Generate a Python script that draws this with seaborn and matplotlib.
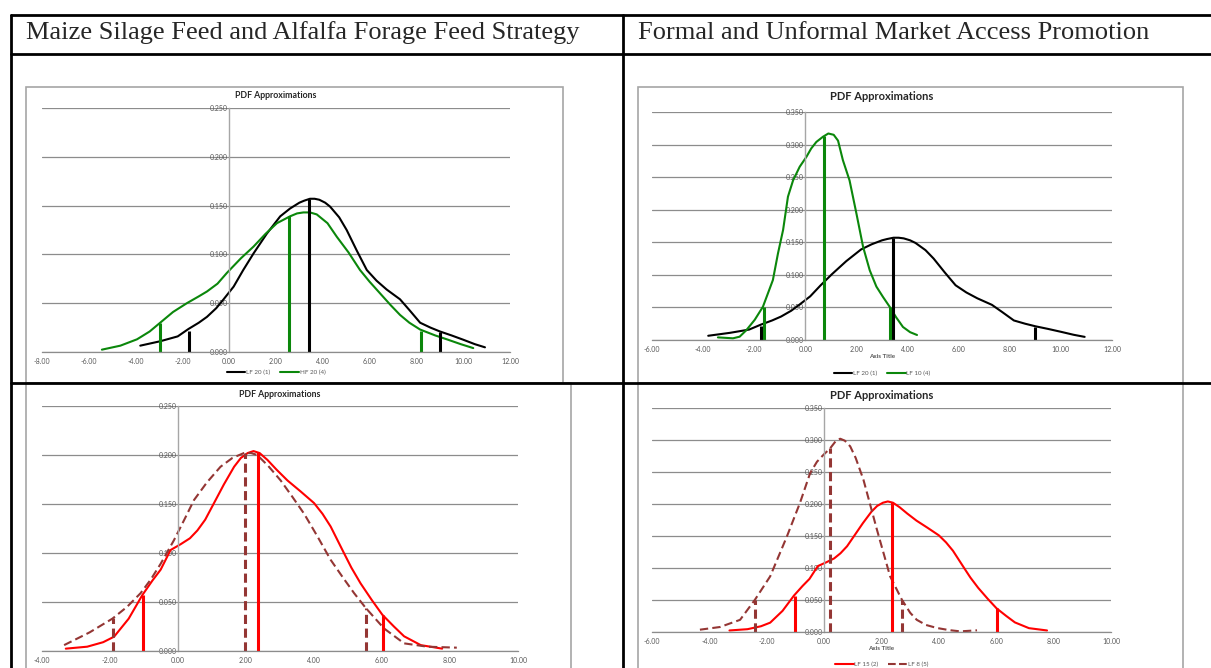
import numpy as np
import matplotlib.pyplot as plt
import seaborn as sns
from matplotlib.lines import Line2D
from matplotlib.patches import Rectangle
from matplotlib.ticker import MultipleLocator, FormatStrFormatter

# DATA
header_left = "Maize Silage Feed and Alfalfa Forage Feed Strategy"
header_right = "Formal and Unformal Market Access Promotion"
chart_title = "PDF Approximations"

lf20_x = [-3.80, -2.95, -2.2, -1.74, -1.3, -0.95, -0.55, -0.24, 0.19, 0.6, 1.04, 1.6, 2.18, 2.6, 3.0, 3.2,
          3.45, 3.65, 3.85, 4.1, 4.31, 4.7, 5.02, 5.45, 5.88, 6.3, 6.73, 7.30, 7.7, 8.16, 8.6, 9.01,
          9.5, 10.0, 10.5, 10.93]
lf20_y = [0.0065, 0.011, 0.016, 0.0236, 0.030, 0.036, 0.045, 0.054, 0.067, 0.084, 0.101, 0.121, 0.139, 0.147,
          0.153, 0.155, 0.157, 0.157, 0.156, 0.153, 0.149, 0.138, 0.125, 0.104, 0.084, 0.073, 0.064, 0.054,
          0.043, 0.030, 0.025, 0.021, 0.017, 0.0126, 0.008, 0.0048]
lf20_mark_x = [-1.72, 3.42, 9.0]
lf20_mark_y = [0.022, 0.157, 0.020]

hf20_x = [-5.44, -4.65, -3.94, -3.4, -2.95, -2.4, -1.81, -1.3, -0.95, -0.5, -0.10, 0.5, 1.04, 1.55, 2.04,
          2.6, 2.9, 3.17, 3.45, 3.74, 4.2, 4.6, 5.1, 5.59, 6.0, 6.45, 6.9, 7.30, 7.7, 8.16, 8.8, 9.30,
          9.9, 10.43]
hf20_y = [0.0024, 0.0065, 0.013, 0.021, 0.030, 0.041, 0.050, 0.057, 0.062, 0.070, 0.081, 0.096, 0.108, 0.121,
          0.132, 0.139, 0.142, 0.143, 0.143, 0.141, 0.132, 0.118, 0.102, 0.084, 0.072, 0.060, 0.048, 0.038,
          0.030, 0.023, 0.017, 0.013, 0.008, 0.004]
hf20_mark_x = [-2.95, 2.55, 8.2]
hf20_mark_y = [0.030, 0.139, 0.022]

lf10_x = [-3.42, -2.83, -2.57, -2.31, -1.98, -1.66, -1.46, -1.27, -1.07, -0.87, -0.68, -0.48, -0.22, 0.04,
          0.23, 0.43, 0.69, 0.9, 1.11, 1.28, 1.47, 1.73, 2.0, 2.26, 2.52, 2.78, 3.04, 3.30, 3.55, 3.82,
          4.1, 4.37]
lf10_y = [0.004, 0.0026, 0.0051, 0.015, 0.031, 0.051, 0.072, 0.092, 0.133, 0.169, 0.220, 0.245, 0.266, 0.281,
          0.294, 0.304, 0.312, 0.317, 0.315, 0.306, 0.276, 0.245, 0.194, 0.143, 0.107, 0.082, 0.066, 0.051,
          0.035, 0.020, 0.012, 0.0077]
lf10_mark_x = [-1.6, 0.72, 3.3]
lf10_mark_y = [0.050, 0.313, 0.050]

lf15_x = [-3.30, -2.67, -2.2, -1.88, -1.45, -1.05, -0.75, -0.51, -0.22, 0.08, 0.35, 0.57, 0.8, 1.06, 1.35,
          1.65, 1.85, 2.05, 2.22, 2.4, 2.63, 2.9, 3.22, 3.6, 4.0, 4.25, 4.49, 4.88, 5.1, 5.37, 5.7, 6.01,
          6.35, 6.65, 7.14, 7.77]
lf15_y = [0.0024, 0.0044, 0.009, 0.0146, 0.033, 0.057, 0.072, 0.083, 0.103, 0.109, 0.115, 0.123, 0.134,
          0.151, 0.170, 0.188, 0.197, 0.202, 0.204, 0.202, 0.195, 0.185, 0.174, 0.163, 0.151, 0.140, 0.127,
          0.100, 0.085, 0.069, 0.052, 0.037, 0.025, 0.015, 0.006, 0.0024]
lf15_mark_x = [-1.03, 2.36, 6.02]
lf15_mark_y = [0.057, 0.203, 0.037]

maize_dash_x = [-3.35, -2.6, -1.93, -1.5, -1.10, -0.8, -0.51, -0.12, 0.2, 0.47, 0.85, 1.25, 1.6, 1.94, 2.15,
                2.33, 2.65, 3.02, 3.35, 3.71, 4.1, 4.49, 4.85, 5.18, 5.52, 6.06, 6.65, 7.33, 8.2]
maize_dash_y = [0.006, 0.019, 0.033, 0.045, 0.059, 0.073, 0.089, 0.113, 0.135, 0.154, 0.172, 0.188, 0.197,
                0.202, 0.202, 0.200, 0.189, 0.174, 0.158, 0.140, 0.117, 0.093, 0.075, 0.059, 0.044, 0.023,
                0.0078, 0.0044, 0.0034]
maize_dash_mark_x = [-1.92, 1.98, 5.52]
maize_dash_mark_y = [0.034, 0.202, 0.044]

lf8_x = [-4.33, -3.63, -2.93, -2.41, -1.88, -1.30, -0.84, -0.49, -0.25, -0.02, 0.21, 0.4, 0.56, 0.72, 0.91,
         1.1, 1.37, 1.84, 2.30, 2.71, 3.0, 3.23, 3.55, 3.93, 4.35, 4.74, 5.33]
lf8_y = [0.0036, 0.0078, 0.019, 0.0505, 0.087, 0.149, 0.202, 0.248, 0.266, 0.277, 0.287, 0.298, 0.302, 0.299,
         0.290, 0.272, 0.238, 0.160, 0.087, 0.0505, 0.030, 0.019, 0.011, 0.0063, 0.003, 0.001, 0.0026]
lf8_mark_x = [-2.41, 0.21, 2.71]
lf8_mark_y = [0.050, 0.288, 0.050]

# STYLE SETTINGS
sns.set_style("white")
plt.rcParams["font.family"] = ["Lato", "DejaVu Sans"]

BLACK = "#000000"
GREEN = "#0b870b"
RED = "#ff0000"
BROWN = "#943634"
GRID = "#8c8c8c"
LABEL = "#595959"

W, H = 1211, 668
fig = plt.figure(figsize=(W / 100, H / 100), dpi=100)


def fx(px):
    return px / W


def fy(py):
    return 1 - py / H


# table frame
for x0, y0, x1, y1 in [(11, 15, 1211, 15), (11, 54, 1211, 54), (11, 383, 1211, 383),
                       (11, 15, 11, 668), (623, 15, 623, 668)]:
    fig.add_artist(Line2D([fx(x0), fx(x1)], [fy(y0), fy(y1)], color="black", lw=2.0,
                          transform=fig.transFigure))

fig.text(fx(26), fy(33), header_left, family="Liberation Serif", fontsize=19, va="center")
fig.text(fx(638), fy(33), header_right, family="Liberation Serif", fontsize=19, va="center")

# chart borders
for x0, y0, x1, y1 in [(26, 87, 563, 383), (638, 87, 1183, 383), (26, 383, 571, 720), (638, 383, 1183, 720)]:
    fig.add_artist(Rectangle((fx(x0), fy(y1)), fx(x1) - fx(x0), fy(y0) - fy(y1), fill=False,
                             edgecolor="#a6a6a6", lw=1.2, transform=fig.transFigure))


def make_axes(xl, xr, xmin, xmax, ytop, ybot, ymax, minor):
    ax = fig.add_axes([fx(xl), fy(ybot), fx(xr) - fx(xl), fy(ytop) - fy(ybot)])
    ax.patch.set_alpha(0)
    ax.set_xlim(xmin, xmax)
    ax.set_ylim(0, ymax)
    ax.xaxis.set_major_locator(MultipleLocator(2))
    if minor:
        ax.xaxis.set_minor_locator(MultipleLocator(0.4))
    ax.yaxis.set_major_locator(MultipleLocator(0.05))
    ax.xaxis.set_major_formatter(FormatStrFormatter("%.2f"))
    ax.yaxis.set_major_formatter(FormatStrFormatter("%.3f"))
    ax.yaxis.grid(True, color=GRID, lw=0.9)
    ax.xaxis.grid(False)
    for s in ["top", "right"]:
        ax.spines[s].set_visible(False)
    ax.spines["left"].set_position(("data", 0))
    ax.spines["left"].set_color("#a6a6a6")
    ax.spines["left"].set_linewidth(1.0)
    ax.spines["bottom"].set_color(GRID)
    ax.spines["bottom"].set_linewidth(0.9)
    ax.tick_params(axis="y", length=0, pad=1, labelsize=5, labelcolor=LABEL)
    ax.tick_params(axis="x", which="both", direction="inout", length=3, width=0.7, color=GRID,
                   pad=2.5, labelsize=5, labelcolor=LABEL)
    ax.tick_params(axis="x", which="minor", length=2)
    ax.set_xlabel("")
    ax.set_ylabel("")
    return ax, ybot - ytop


def curve(ax, x, y, color, label, dashed=False):
    ls = (0, (4, 2)) if dashed else "-"
    sns.lineplot(x=x, y=y, color=color, lw=1.5, linestyle=ls, sort=False, estimator=None,
                 label=label, ax=ax, legend=False, solid_joinstyle="round",
                 dash_joinstyle="round")


def marks(ax, x, y, color, dashed=False):
    ax.vlines(x, 0, y, colors=color, lw=2.2, linestyles=(0, (3, 1.5)) if dashed else "solid")


def legend(ax, frac):
    lines = [l for l in ax.get_lines() if not l.get_label().startswith("_")]
    handles = [Line2D([], [], color=l.get_color(), lw=1.5, linestyle=l.get_linestyle()) for l in lines]
    labels = [l.get_label() for l in lines]
    ax.legend(handles, labels, loc="center", bbox_to_anchor=(0.5, frac), ncol=2, frameon=False,
              fontsize=4.5, handlelength=3.0, handletextpad=0.1, columnspacing=1.6,
              labelcolor=LABEL)


def title(ax, frac, size):
    ax.text(0.5, frac, chart_title, transform=ax.transAxes, ha="center", va="center",
            fontsize=size, weight="bold", color="#262626")


def axis_title(ax, frac):
    ax.text(0.5, frac, "Axis Title", transform=ax.transAxes, ha="center", va="center",
            fontsize=4.5, weight="bold", color=LABEL)


# TOP LEFT
ax1, h1 = make_axes(42, 510, -8, 12, 108, 352, 0.25, False)
curve(ax1, lf20_x, lf20_y, BLACK, "LF 20 (1)")
curve(ax1, hf20_x, hf20_y, GREEN, "HF 20 (4)")
marks(ax1, lf20_mark_x, lf20_mark_y, BLACK)
marks(ax1, hf20_mark_x, hf20_mark_y, GREEN)
title(ax1, (352 - 96) / h1, 6.3)
legend(ax1, (352 - 372) / h1)

# TOP RIGHT
ax2, h2 = make_axes(652, 1112, -6, 12, 112, 340, 0.35, True)
curve(ax2, lf20_x, lf20_y, BLACK, "LF 20 (1)")
curve(ax2, lf10_x, lf10_y, GREEN, "LF 10 (4)")
marks(ax2, lf20_mark_x, lf20_mark_y, BLACK)
marks(ax2, lf10_mark_x, lf10_mark_y, GREEN)
title(ax2, (340 - 97) / h2, 8)
axis_title(ax2, (340 - 357) / h2)
legend(ax2, (340 - 373) / h2)

# BOTTOM LEFT
ax3, h3 = make_axes(42, 518, -4, 10, 406, 651, 0.25, False)
curve(ax3, lf15_x, lf15_y, RED, "LF 15 (2)")
curve(ax3, maize_dash_x, maize_dash_y, BROWN, "_dashed", dashed=True)
marks(ax3, lf15_mark_x, lf15_mark_y, RED)
marks(ax3, maize_dash_mark_x, maize_dash_mark_y, BROWN, dashed=True)
title(ax3, (651 - 394) / h3, 6.3)

# BOTTOM RIGHT
ax4, h4 = make_axes(652, 1111, -6, 10, 408, 632, 0.35, True)
curve(ax4, lf15_x, lf15_y, RED, "LF 15 (2)")
curve(ax4, lf8_x, lf8_y, BROWN, "LF 8 (5)", dashed=True)
marks(ax4, lf15_mark_x, lf15_mark_y, RED)
marks(ax4, lf8_mark_x, lf8_mark_y, BROWN, dashed=True)
title(ax4, (632 - 395) / h4, 8)
axis_title(ax4, (632 - 648) / h4)
legend(ax4, (632 - 664) / h4)

plt.savefig("out.png", dpi=100)
plt.close()
